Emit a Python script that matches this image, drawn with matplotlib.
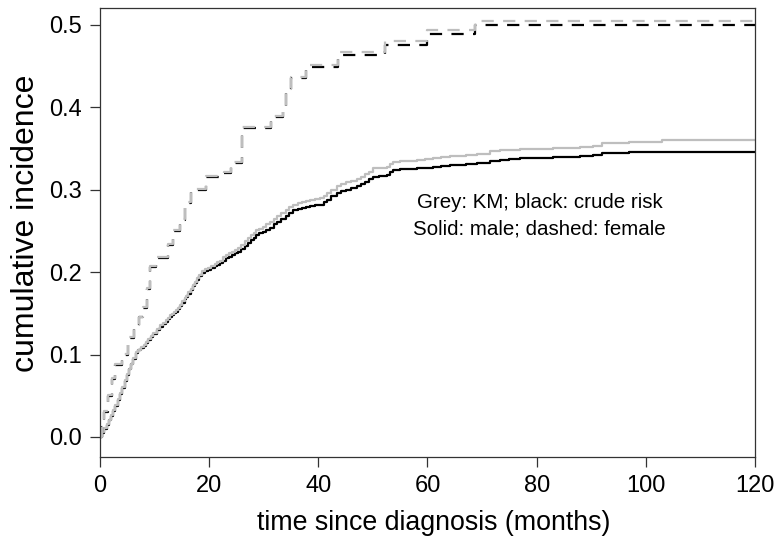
import matplotlib
matplotlib.use("Agg")
import matplotlib.pyplot as plt

plt.rcParams['font.family'] = ['Liberation Sans', 'DejaVu Sans']

# Female (dashed) - Kaplan-Meier (grey) and crude risk (black)
female_t = [0, 0.3, 0.8, 1.5, 2.2, 2.75, 4.0, 5.1, 6.3, 7.2, 7.9, 8.6, 9.2, 10.3, 12.4,
            13.4, 14.7, 15.6, 16.7, 19.4, 22.8, 24.0, 26.0, 31.3, 33.5, 34.0, 35.0,
            37.7, 43.6, 52.2, 60.0, 68.7, 120]
female_km = [0, 0.013, 0.031, 0.051, 0.071, 0.088, 0.101, 0.121, 0.136, 0.146, 0.158, 0.181,
             0.207, 0.218, 0.234, 0.251, 0.264, 0.285, 0.301, 0.317, 0.321, 0.334, 0.376,
             0.389, 0.401, 0.422, 0.437, 0.451, 0.467, 0.480, 0.494, 0.505, 0.505]
female_crude = [0, 0.012, 0.03, 0.05, 0.07, 0.087, 0.10, 0.12, 0.135, 0.145, 0.157, 0.18,
                0.206, 0.217, 0.233, 0.25, 0.263, 0.284, 0.30, 0.316, 0.32, 0.333, 0.375,
                0.388, 0.40, 0.421, 0.436, 0.449, 0.463, 0.476, 0.489, 0.500, 0.500]

# Male (solid)
male_t = [0, 0.4, 0.8, 1.2, 1.6, 2.0, 2.4, 2.8, 3.3, 3.7, 4.1, 4.5, 4.9, 5.3, 5.7, 6.1,
          6.6, 7.0, 7.5, 8.0, 8.4, 8.8, 9.3, 9.8, 10.4, 11.0, 11.5, 12.0, 12.4, 12.8,
          13.2, 13.6, 14.0, 14.3, 14.7, 15.1, 15.5, 15.8, 16.2, 16.6, 17.0, 17.4, 17.8,
          18.2, 18.6, 19.2, 19.8, 20.4, 21.0, 21.5, 22.0, 22.5, 23.0, 23.6, 24.2, 24.8,
          25.3, 25.9, 26.5, 27.1, 27.7, 28.2, 28.6, 29.2, 29.8, 30.4, 31.1, 31.8, 32.5,
          33.2, 34.0, 34.7, 35.4, 36.2, 37.0, 37.8, 38.5, 39.4, 40.3, 41.0, 41.5, 42.4,
          43.4, 44.2, 45.0, 46.0, 47.0, 47.8, 48.5, 49.3, 50.0, 51.2, 52.5, 53.1, 53.7,
          55.0, 56.5, 58.0, 59.5, 61.0, 62.5, 64.1, 65.5, 67.0, 69.0, 70.9, 71.5, 73.3,
          75.0, 77.0, 80.6, 83.0, 85.0, 88.0, 90.3, 92.0, 97.0, 103.0, 120]
male_crude = [0, 0.005, 0.010, 0.015, 0.020, 0.026, 0.032, 0.038, 0.045, 0.052, 0.060,
              0.068, 0.075, 0.082, 0.088, 0.095, 0.102, 0.105, 0.108, 0.111, 0.114, 0.118,
              0.121, 0.125, 0.130, 0.134, 0.137, 0.140, 0.143, 0.146, 0.148, 0.150, 0.152,
              0.155, 0.159, 0.163, 0.167, 0.170, 0.174, 0.178, 0.183, 0.187, 0.191, 0.195,
              0.199, 0.201, 0.203, 0.205, 0.207, 0.209, 0.211, 0.214, 0.217, 0.219, 0.221,
              0.223, 0.225, 0.228, 0.232, 0.236, 0.239, 0.242, 0.245, 0.247, 0.249, 0.251,
              0.254, 0.258, 0.261, 0.265, 0.268, 0.272, 0.275, 0.277, 0.278, 0.279, 0.280,
              0.281, 0.282, 0.285, 0.288, 0.292, 0.296, 0.298, 0.300, 0.302, 0.304, 0.307,
              0.310, 0.313, 0.316, 0.317, 0.318, 0.321, 0.324, 0.325, 0.3255, 0.326, 0.327,
              0.328, 0.329, 0.330, 0.3305, 0.331, 0.332, 0.333, 0.335, 0.336, 0.337, 0.338,
              0.339, 0.3395, 0.340, 0.341, 0.342, 0.345, 0.3455, 0.346, 0.346]
male_km = [0, 0.006, 0.011, 0.016, 0.021, 0.027, 0.033, 0.039, 0.046, 0.053, 0.061,
           0.069, 0.076, 0.083, 0.089, 0.096, 0.103, 0.106, 0.109, 0.112, 0.115, 0.119,
           0.122, 0.126, 0.1315, 0.1355, 0.1385, 0.1415, 0.1445, 0.1475, 0.1495, 0.1515,
           0.1535, 0.1565, 0.1605, 0.1645, 0.1685, 0.1715, 0.1755, 0.1795, 0.1845, 0.1885,
           0.193, 0.197, 0.201, 0.2035, 0.2055, 0.2075, 0.210, 0.212, 0.214, 0.218, 0.221,
           0.223, 0.225, 0.227, 0.229, 0.233, 0.238, 0.242, 0.245, 0.248, 0.251, 0.253,
           0.255, 0.258, 0.261, 0.265, 0.268, 0.272, 0.275, 0.279, 0.282, 0.284, 0.285,
           0.286, 0.287, 0.289, 0.290, 0.293, 0.296, 0.300, 0.305, 0.307, 0.309, 0.311,
           0.313, 0.316, 0.319, 0.322, 0.326, 0.327, 0.328, 0.331, 0.334, 0.335, 0.3355,
           0.336, 0.337, 0.339, 0.340, 0.341, 0.3415, 0.342, 0.343, 0.344, 0.347, 0.348,
           0.348, 0.349, 0.350, 0.3505, 0.351, 0.352, 0.353, 0.357, 0.3575, 0.360, 0.360]

x_ticks = [0, 20, 40, 60, 80, 100, 120]
y_ticks = [0.0, 0.1, 0.2, 0.3, 0.4, 0.5]

fig = plt.figure(figsize=(7.81, 5.46), dpi=100)
ax = fig.add_axes([100 / 781, 89 / 546, 655 / 781, 449 / 546])

grey = '#BEBEBE'
dash = (0, (5.5, 4.2))
ax.step(male_t, male_crude, where='post', color='black', lw=1.6)
ax.step(male_t, male_km, where='post', color=grey, lw=1.6)
ax.step(female_t, female_crude, where='post', color='black', lw=1.6, linestyle=dash)
ax.step(female_t, female_km, where='post', color=grey, lw=1.6, linestyle=dash)

ax.set_xlim(0, 120)
ax.set_ylim(-0.0243, 0.5206)
ax.set_xticks(x_ticks)
ax.set_xticklabels([str(v) for v in x_ticks])
ax.set_yticks(y_ticks)
ax.set_yticklabels([f"{v:.1f}" for v in y_ticks])
ax.tick_params(direction='out', length=7, width=0.9, labelsize=17, pad=6, color='#333333')
for s in ax.spines.values():
    s.set_linewidth(0.9)
    s.set_color('#333333')

ax.set_xlabel('time since diagnosis (months)', fontsize=19.3)
ax.set_ylabel('cumulative incidence', fontsize=23)
ax.xaxis.set_label_coords(0.5 + 6 / 655, -(523 - 457) / 449)
ax.xaxis.label.set_va('center')
ax.yaxis.set_label_coords(-(100 - 26) / 655, (457 - 223) / 449)
ax.yaxis.label.set_va('center')

ax.text(80.5, 0.284, 'Grey: KM; black: crude risk', ha='center', va='center', fontsize=14.8)
ax.text(80.5, 0.253, 'Solid: male; dashed: female', ha='center', va='center', fontsize=14.8)

fig.savefig('out.png', dpi=100)
